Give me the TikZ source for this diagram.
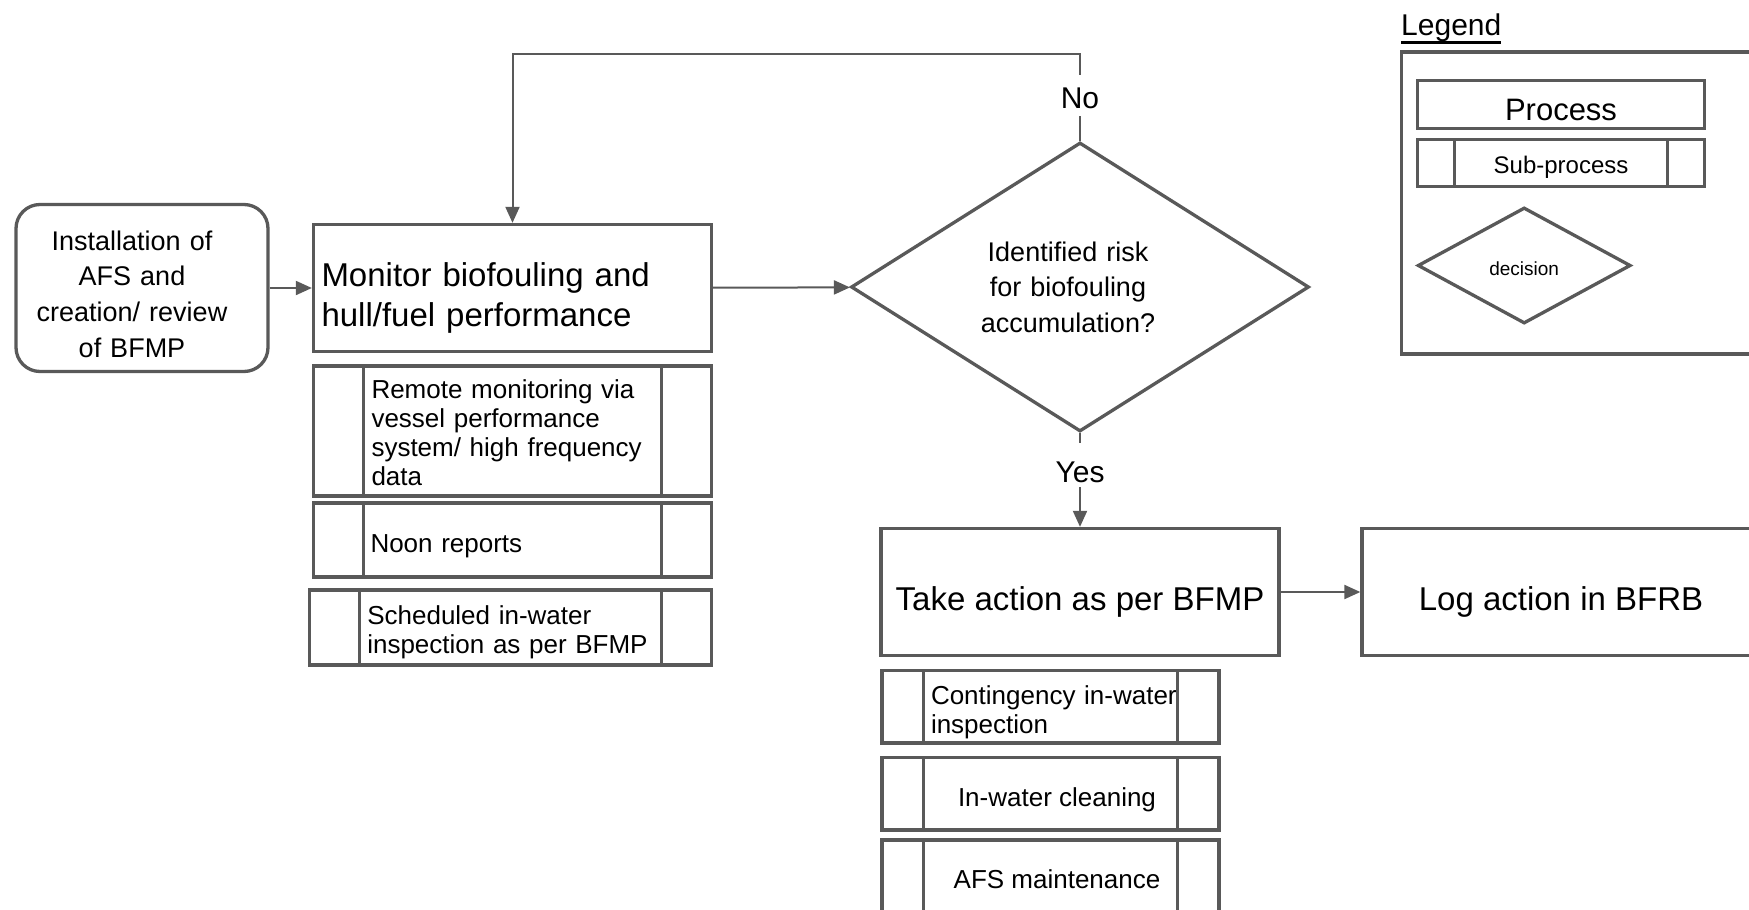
\documentclass[tikz,border=0pt]{standalone}
\usepackage{fontspec}
\setmainfont{Liberation Sans}
\usetikzlibrary{shapes.geometric,arrows.meta}
\definecolor{linegray}{RGB}{89,89,89}
\tikzset{
	box/.style={draw=linegray,line width=3.3pt,fill=white},
	procbox/.style={box,minimum width=398pt,minimum height=127pt,font=\fontsize{33}{40}\selectfont,text height=36pt,text depth=0pt},
	subbox/.style={box,font=\fontsize{26}{29}\selectfont,text height=25pt,text depth=0pt,path picture={\draw[linegray,line width=3.3pt] ([xshift=#1]path picture bounding box.north west) -- ([xshift=#1]path picture bounding box.south west) ([xshift=-#1]path picture bounding box.north east) -- ([xshift=-#1]path picture bounding box.south east);}},
	decbox/.style={box,diamond,inner sep=0pt,align=center},
	answer/.style={font=\fontsize{30}{36}\selectfont,text height=25pt,text depth=0pt,inner xsep=2pt,inner ysep=8pt},
	conn/.style={draw=linegray,line width=2pt,-{Triangle[length=16pt,width=14pt]}},
	link/.style={draw=linegray,line width=2pt}
}
\begin{document}
\begin{tikzpicture}[x=1pt,y=-1pt]
	\useasboundingbox (0,0) rectangle (1749,910);
	\clip (0,0) rectangle (1749,910);
	\node[box,rounded corners=24pt,minimum width=252pt,minimum height=167pt,text width=252pt,inner xsep=0pt,align=center,text height=0pt,text depth=76pt,font=\fontsize{27}{35.7}\selectfont] (start) at (142,288) {Installation of\kern20pt\\AFS and\kern20pt\\creation/ review\kern20pt\\of BFMP\kern20pt};
	\node[procbox,text width=382pt,inner xsep=8pt,align=left,text height=0pt,text depth=4pt] (monitor) at (512.5,288) {Monitor biofouling and\\hull/fuel performance};
	\node[subbox=50pt,minimum height=130pt,text width=282pt,inner xsep=58pt,align=left,text height=0pt,text depth=65pt] (remote) at (512.5,431) {Remote monitoring via\\vessel performance\\system/ high frequency\\data};
	\node[subbox=50pt,minimum height=74pt,text width=284pt,inner xsep=57pt,align=left] (noon) at (512.5,540) {Noon reports};
	\node[subbox=50pt,minimum height=75pt,text width=286pt,inner xsep=58pt,align=left,text height=0pt,text depth=5pt] (sched) at (510.3,627.4) {Scheduled in-water\\inspection as per BFMP};
	\node[decbox,minimum width=458pt,minimum height=289pt,text width=200pt,text height=0pt,text depth=52pt,font=\fontsize{27}{35.7}\selectfont] (dec) at (1080,287) {Identified risk\kern24pt\\for biofouling\kern24pt\\accumulation?\kern24pt};
	\node[answer] (no) at (1080,95.5) {No};
	\coordinate (loop) at (1080,53.5);
	\node[answer,text height=35pt,text depth=1pt,inner ysep=4pt] (yes) at (1080,465) {Yes};
	\node[procbox] (action) at (1080,592) {Take action as per BFMP};
	\node[procbox] (log) at (1561,592) {Log action in BFRB};
	\node[subbox=41.5pt,minimum width=337pt,minimum height=72.5pt,text width=239pt,inner xsep=49pt,align=left,text height=0pt,text depth=5pt] (cont) at (1050.5,706.6) {\mbox{Contingency in-water}\\inspection};
	\node[subbox=41.5pt,minimum width=337pt,minimum height=72.5pt,align=center] (clean) at (1050.5,793.6) {\kern13pt In-water cleaning};
	\node[subbox=41.5pt,minimum width=337pt,minimum height=72.5pt,align=center] (afsm) at (1050.5,876.2) {\kern13pt AFS maintenance};
	\node[anchor=base west,inner sep=0pt,font=\fontsize{30}{36}\selectfont] (legtitle) at (1401,35) {\sbox0{Legend}\rlap{\rule[-8.5pt]{\wd0}{2.5pt}}\usebox0};
	\node[box,anchor=north west,minimum width=400pt,minimum height=302pt] (legend) at (1400,50.2) {};
	\node[box,minimum width=286.6pt,minimum height=48pt,font=\fontsize{31}{36}\selectfont,text height=33pt,text depth=0pt] (legproc) at (1561,104.3) {Process};
	\node[subbox=36.5pt,minimum width=286.6pt,minimum height=46.8pt,font=\fontsize{24}{29}\selectfont,text height=21pt] (legsub) at (1561,162.9) {Sub-process};
	\node[decbox,minimum width=213pt,minimum height=116pt,font=\fontsize{19}{23}\selectfont,text height=20pt,text depth=0pt] (legdec) at (1524.2,265.5) {decision};
	\draw (start) edge [conn] (monitor);
	\draw (monitor) edge [conn] (dec);
	\draw[link] (dec) -- (no);
	\draw[conn] (no) -- (loop) -| (monitor);
	\draw[link] (dec) -- (yes);
	\draw (yes) edge [conn] (action);
	\draw (action) edge [conn] (log);
\end{tikzpicture}
\end{document}
